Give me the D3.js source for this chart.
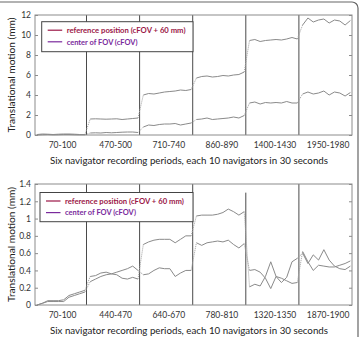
<!DOCTYPE html>
<html><head><meta charset="utf-8">
<script src="https://cdn.jsdelivr.net/npm/d3@7/dist/d3.min.js"></script>
<style>
html,body{margin:0;padding:0;background:#fff;}
svg{display:block;font-family:Lato,"Open Sans",sans-serif;}
</style></head>
<body>
<svg id="c" width="360" height="337"></svg>
<script>
// ---------- data ----------
const periodsTop = ["70-100","470-500","710-740","860-890","1400-1430","1950-1980"];
const periodsBottom = ["70-100","440-470","640-670","780-810","1320-1350","1870-1900"];
const legendLabels = ["reference position (cFOV + 60 mm)","center of FOV (cFOV)"];
const yTicksTop = [0,2,4,6,8,10,12];
const yTicksBottom = [0,0.2,0.4,0.6,0.8,1,1.2,1.4];
const separatorsX = [10.3,20.3,30.3,40.3,50.3];
const sepTopBottom = [1.4,1.4,1.4,1.3,1.4];
const labelX = [5.7,15.7,25.7,35.7,45.7,55.7];

// top chart, 6 periods x 10 navigators
const topA = [
  0.05,0.10,0.08,0.05,0.08,0.10,0.10,0.08,0.05,0.05,
  1.60,1.62,1.60,1.58,1.60,1.62,1.55,1.60,1.65,1.70,
  4.00,4.15,4.10,4.20,4.30,4.35,4.40,4.50,4.45,4.55,
  5.70,5.85,5.90,5.80,5.85,5.95,5.90,6.00,6.05,6.30,
  9.45,9.55,9.35,9.45,9.50,9.55,9.50,9.60,9.75,9.60,
  11.0,11.7,11.3,11.5,11.6,11.2,11.5,11.4,11.0,11.45];
const topB = [
  0.00,0.03,0.05,0.02,0.03,0.05,0.05,0.03,0.02,0.02,
  0.20,0.22,0.20,0.25,0.22,0.25,0.28,0.30,0.30,0.25,
  0.80,1.00,0.95,1.05,1.10,1.10,1.15,1.00,1.10,1.20,
  1.55,1.60,1.70,1.55,1.60,1.65,1.70,1.80,1.70,1.95,
  3.20,3.30,3.10,3.25,3.20,3.25,3.20,3.35,3.20,3.20,
  4.10,4.30,4.10,4.20,4.40,4.00,4.30,4.20,3.90,4.25];
// bottom chart
const botA = [
  0.00,0.02,0.05,0.05,0.05,0.06,0.11,0.13,0.15,0.17,
  0.33,0.34,0.37,0.38,0.36,0.35,0.31,0.30,0.32,0.30,
  0.70,0.73,0.75,0.76,0.76,0.76,0.72,0.76,0.80,0.80,
  1.03,1.04,1.04,1.04,1.05,1.07,1.11,1.08,1.04,1.08,
  0.21,0.24,0.22,0.33,0.50,0.33,0.26,0.32,0.50,0.54,
  0.60,0.48,0.58,0.52,0.64,0.52,0.45,0.42,0.41,0.45];
const botB = [
  0.00,0.02,0.04,0.04,0.04,0.04,0.09,0.11,0.13,0.15,
  0.27,0.30,0.33,0.35,0.36,0.38,0.40,0.42,0.45,0.40,
  0.35,0.36,0.40,0.43,0.42,0.42,0.33,0.37,0.40,0.40,
  0.72,0.69,0.72,0.73,0.74,0.73,0.75,0.70,0.66,0.71,
  0.40,0.41,0.38,0.31,0.19,0.33,0.31,0.28,0.25,0.26,
  0.62,0.50,0.40,0.46,0.45,0.44,0.44,0.46,0.48,0.51];

const legendColors = ["#9b1747","#7a2a9c"];
const svg = d3.select("#c");

// scale a text's font size so that its width matches a target width
function fitWidth(sel, target, maxSize){
  sel.each(function(){
    const fs = parseFloat(this.getAttribute("font-size"));
    const w = this.getComputedTextLength();
    if(w>0){
      let ns = fs*target/w;
      if(maxSize) ns = Math.min(ns,maxSize);
      this.setAttribute("font-size", ns.toFixed(2)+"px");
    }
  });
}

// outer frame
svg.append("rect").attr("x",-6).attr("y",2).attr("width",364).attr("height",345)
  .attr("rx",6).attr("fill","none").attr("stroke","#666").attr("stroke-width",1.2);

function drawChart(o){
  const x = d3.scaleLinear().domain([0.6,60.3]).range([o.left,o.right]);
  const y = d3.scaleLinear().domain([0,o.ymax]).range([o.bottom,o.top]);
  const g = svg.append("g");
  // separators
  g.selectAll("line.sep").data(separatorsX).join("line")
    .attr("x1",d=>x(d)).attr("x2",d=>x(d))
    .attr("y1",y(0)).attr("y2",(d,i)=>y(o.sepTop? o.sepTop[i] : o.ymax))
    .attr("stroke","#4a4a4a").attr("stroke-width",1);
  // series
  [o.a,o.b].forEach(s=>{
    const pts = s.map((v,i)=>[i+1,v]);
    const line = d3.line().x(d=>x(d[0])).y(d=>y(d[1]));
    for(let k=0;k<6;k++){
      g.append("path").attr("d",line(pts.slice(k*10,k*10+10)))
        .attr("fill","none").attr("stroke","#8a8a8a").attr("stroke-width",1);
      if(k<5){
        g.append("path").attr("d",line(pts.slice(k*10+9,k*10+11)))
          .attr("fill","none").attr("stroke","#a0a0a0").attr("stroke-width",1)
          .attr("stroke-dasharray","1,1");
      }
    }
  });
  // frame
  g.append("rect").attr("x",o.left).attr("y",o.top)
    .attr("width",o.right-o.left).attr("height",o.bottom-o.top)
    .attr("fill","none").attr("stroke","#8c8c8c").attr("stroke-width",1);
  // y axes
  const ya = g.append("g").attr("transform",`translate(${o.left},0)`)
    .call(d3.axisLeft(y).tickValues(o.yticks).tickSizeInner(-3).tickSizeOuter(0).tickPadding(4)
      .tickFormat(d=>String(+d.toFixed(1))));
  ya.select(".domain").remove();
  ya.selectAll("line").attr("stroke","#8c8c8c");
  ya.selectAll("text").attr("font-size","8.5px").attr("fill","#333").attr("font-family","Lato");
  const yr = g.append("g").attr("transform",`translate(${o.right},0)`)
    .call(d3.axisRight(y).tickValues(o.yticks).tickSizeInner(-3).tickSizeOuter(0).tickFormat(""));
  yr.select(".domain").remove();
  yr.selectAll("line").attr("stroke","#8c8c8c");
  // x axis labels
  const xa = g.append("g").attr("transform",`translate(0,${o.bottom})`)
    .call(d3.axisBottom(x).tickValues(labelX).tickSize(0).tickPadding(7)
      .tickFormat((d,i)=>o.periods[i]));
  xa.select(".domain").remove();
  xa.selectAll("text").attr("font-size","8.5px").attr("fill","#333").attr("font-family","Lato");
  // x title
  const xt = g.append("text").attr("x",189).attr("y",o.bottom+28.5)
    .attr("text-anchor","middle").attr("font-size","10.5px").attr("fill","#222")
    .text("Six navigator recording periods, each 10 navigators in 30 seconds");
  fitWidth(xt, 278);
  // y title
  const yt = g.append("text").attr("transform",`translate(${o.left-20},${(o.top+o.bottom)/2}) rotate(-90)`)
    .attr("text-anchor","middle").attr("font-size","10.5px").attr("fill","#222")
    .text("Translational motion (mm)");
  fitWidth(yt, 115);
  // legend
  const L = o.legend;
  g.append("rect").attr("x",L.x).attr("y",L.y).attr("width",L.w).attr("height",L.h)
    .attr("fill","#fff").attr("stroke","#444").attr("stroke-width",1);
  legendLabels.forEach((t,i)=>{
    const yy = L.y + 8.5 + i*11.6;
    g.append("line").attr("x1",L.x+6).attr("x2",L.x+20.5).attr("y1",yy).attr("y2",yy)
      .attr("stroke",legendColors[i]).attr("stroke-width",1.2);
    const lt = g.append("text").attr("x",L.x+25).attr("y",yy+2.8).attr("font-size","8px")
      .attr("font-weight","bold").attr("fill",legendColors[i]).text(t);
    fitWidth(lt, i===0 ? 119 : 71, 9.5);
  });
}

drawChart({left:35,right:352,top:15,bottom:135,ymax:12,yticks:yTicksTop,
  periods:periodsTop,a:topA,b:topB,legend:{x:41.7,y:21.7,w:151.3,h:30}});
drawChart({left:35,right:352,top:184,bottom:305,ymax:1.4,yticks:yTicksBottom,
  periods:periodsBottom,a:botA,b:botB,sepTop:sepTopBottom,legend:{x:40,y:192.5,w:153,h:29.2}});
</script>
</body></html>
